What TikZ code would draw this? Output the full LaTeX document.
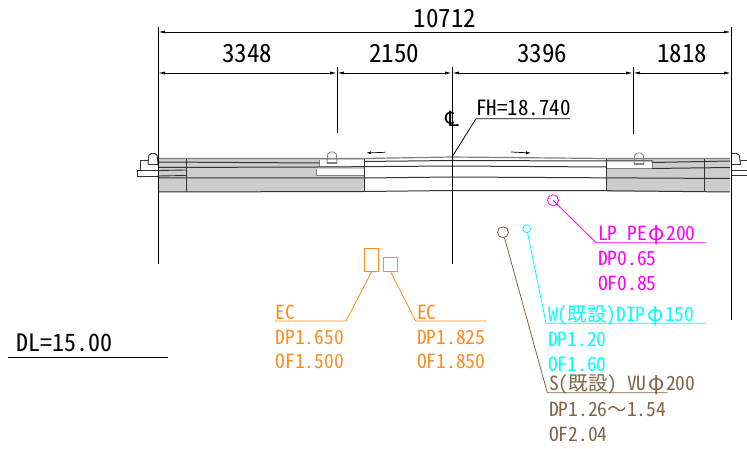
\documentclass[tikz,border=0pt]{standalone}
\usepackage{fontspec}
\newfontfamily\cadfont[RawFeature=+hwid]{Noto Sans CJK JP}
\newfontfamily\cadfull{Noto Sans CJK JP}
\newfontfamily\clfont{DejaVu Sans}
\usetikzlibrary{arrows.meta}
\definecolor{ecorange}{RGB}{255,140,30}
\definecolor{lpmagenta}{RGB}{255,0,255}
\definecolor{wcyan}{RGB}{0,255,255}
\definecolor{sbrown}{RGB}{128,100,70}
\definecolor{paved}{RGB}{205,205,205}
\tikzset{
    dimtext/.style={font=\cadfont\fontsize{25}{25}\selectfont, inner sep=0, anchor=base},
    labeltext/.style={font=\cadfont\fontsize{19.5}{20}\selectfont, inner sep=0, anchor=base west},
    dimline/.style={line width=0.8pt, {Latex[length=7pt,width=3pt]}-{Latex[length=7pt,width=3pt]}},
    extline/.style={line width=1pt},
    layerline/.style={line width=1pt, black!80},
    curb/.style={line width=0.9pt, black!80},
    pipe/.style={draw, circle, inner sep=0, line width=0.8pt},
    box/.style={inner sep=0},
    boxline/.style={draw=ecorange, line width=0.9pt},
    leader/.style={line width=0.8pt}
}
\newcommand{\phichar}{\makebox[1em]{\cadfull\scalebox{1.1}{φ}}}
\newcommand{\waveto}{{\cadfull 〜}}
\begin{document}
\begin{tikzpicture}[x=1pt, y=-1pt]
    \useasboundingbox (0, 0) rectangle (747, 449);

    % pavement
    \fill[paved] (158, 158) -- (364, 158) -- (364, 192) -- (158, 192) -- cycle;
    \fill[paved] (606.5, 158) -- (730, 158) -- (730, 192) -- (606.5, 192) -- cycle;
    \fill[white] (319, 160.5) rectangle (364, 166);
    \fill[white] (316, 169) rectangle (364, 175);
    \fill[white] (606.5, 161) rectangle (652, 168);
    \draw[gray, line width=0.8pt] (319, 160.5) -- (319, 166) (316, 169) -- (316, 175) -- (364, 175);
    \draw[gray, line width=0.8pt] (606.5, 168) -- (652, 168) -- (652, 160);

    \draw[gray, line width=1.2pt] (158, 158.5) -- (364, 158.5) -- (452, 157) -- (606.5, 158.5) -- (730, 158.5);
    \draw[layerline] (158, 162) -- (319, 163) (364, 161.5) -- (452, 160.5) -- (606.5, 161) -- (652, 161) (652, 162.5) -- (730, 161);
    \draw[layerline] (158, 167.5) -- (318, 167) -- (452, 166) -- (606.5, 167) (652, 168.5) -- (730, 167.5);
    \draw[layerline] (158, 178) -- (364, 178) -- (452, 177) -- (730, 178.5);
    \draw[layerline] (158, 192) -- (364, 191.5) -- (452, 190.5) -- (606.5, 190.7) -- (730, 192);
    \draw[layerline] (186, 159) -- (186, 192);
    \draw[layerline] (364, 159) -- (364, 192);
    \draw[layerline] (606.5, 159) -- (606.5, 191);
    \draw[layerline] (704, 159) -- (704, 192);

    % curbs
    \draw[curb, rounded corners=2pt] (148, 164.5) -- (149, 153.5) -- (157, 153.5) -- (158, 164.5);
    \draw[curb] (148, 164.5) -- (158, 164.5);
    \draw[curb] (148, 160.5) -- (140, 160.5) -- (140, 170.5);
    \draw[curb] (137.5, 170.5) rectangle (158, 176);
    \draw[curb] (158, 170.5) -- (186, 170) (158, 176) -- (186, 175.5);
    \draw[curb, rounded corners=2pt] (731, 153.5) -- (739, 153.5) -- (740.5, 164);
    \draw[curb] (731, 164) -- (740.5, 164);
    \draw[curb] (740, 160) -- (747, 160);
    \draw[curb] (731, 170) -- (747, 170) (731, 175.5) -- (747, 175.5);
    \draw[line width=0.9pt, gray, rounded corners=2pt] (327, 163) -- (328, 152) -- (336, 152) -- (337, 163);
    \draw[line width=1.6pt, gray] (327, 163) -- (337, 163);
    \draw[line width=0.9pt, gray, rounded corners=2pt] (634, 164) -- (635, 153) -- (643, 153) -- (644, 164);
    \draw[line width=1.6pt, gray] (634, 164) -- (644, 164);

    % extension lines
    \coordinate (A) at (158,  27);
    \coordinate (B) at (337,  67);
    \coordinate (C) at (452,  67);
    \coordinate (D) at (633,  67);
    \coordinate (E) at (731,  27);
    \coordinate (Abot) at (158, 264);
    \coordinate (Bbot) at (337, 133);
    \coordinate (Cbot) at (452, 264);
    \coordinate (Dbot) at (633, 134);
    \coordinate (Ebot) at (731, 320);
    \draw[extline] (A) -- (Abot);
    \draw[extline] (B) -- (Bbot);
    \draw[extline] (C) -- (Cbot);
    \draw[extline] (D) -- (Dbot);
    \draw[extline] (E) -- (Ebot);

    % dimensions
    \coordinate (Atop) at (158, 32);
    \coordinate (Etop) at (731, 32);
    \coordinate (Amid) at (158, 73);
    \coordinate (Bmid) at (337, 73);
    \coordinate (Cmid) at (452, 73);
    \coordinate (Dmid) at (633, 73);
    \coordinate (Emid) at (731, 73);
    \draw[dimline] (Atop) -- (Etop);
    \draw[dimline] (Amid) -- (Bmid);
    \draw[dimline] (Bmid) -- (Cmid);
    \draw[dimline] (Cmid) -- (Dmid);
    \draw[dimline] (Dmid) -- (Emid);
    \node[dimtext] (total) at (445, 28) {10712};
    \node[dimtext] (dimA)  at (247, 63) {3348};
    \node[dimtext] (dimB)  at (394, 63) {2150};
    \node[dimtext] (dimC)  at (542, 63) {3396};
    \node[dimtext] (dimD)  at (682, 63) {1818};

    % center line and height
    \node[font=\clfont\fontsize{21}{21}\selectfont, inner sep=0] (cl) at (452, 119) {℄};
    \node[labeltext, font=\cadfont\fontsize{21}{21}\selectfont] (fh) at (476, 115.5) {FH=18.740};
    \coordinate (fhstart) at (476, 118.7);
    \coordinate (fhend)   at (570, 118.7);
    \coordinate (crown)   at (452, 157);
    \draw[leader] (crown) -- (fhstart) -- (fhend);

    % slope arrows
    \coordinate (arrLa) at (385, 152.3);
    \coordinate (arrLb) at (366, 153);
    \coordinate (arrRa) at (511, 152);
    \coordinate (arrRb) at (531, 153);
    \draw[line width=0.7pt, -{Latex[length=5pt,width=3pt]}] (arrLa) -- (arrLb);
    \draw[line width=0.7pt, -{Latex[length=5pt,width=3pt]}] (arrRa) -- (arrRb);

    % datum
    \node[labeltext, font=\cadfont\fontsize{24}{24}\selectfont] (dl) at (16, 351.5) {DL=15.00};
    \coordinate (dlstart) at (8,   357.5);
    \coordinate (dlend)   at (168, 357.5);
    \draw[line width=0.8pt] (dlstart) -- (dlend);

    % ec
    \node[box, minimum width=14.4pt, minimum height=23.4pt] (ecA) at (371.5, 260) {};
    \node[box, minimum size=14pt] (ecB) at (390.5, 264.5) {};
    \draw[boxline] (ecB.south west) -- (ecB.south east) -- (ecB.north east) -- (ecB.north west) -- cycle;
    \draw[boxline] (ecA.south west) -- (ecA.south east) -- (ecA.north east) -- (ecA.north west) -- cycle;
    \coordinate (ecAa) at (346, 321);
    \coordinate (ecAb) at (275, 321);
    \coordinate (ecBa) at (415.7, 321);
    \coordinate (ecBb) at (486.7, 321);
    \draw[leader, ecorange] (ecA.south) -- (ecAa) -- (ecAb);
    \draw[leader, ecorange] (ecB.south) -- (ecBa) -- (ecBb);
    \node[labeltext, ecorange] (ecAtitle) at (275.5, 319.5) {EC};
    \node[labeltext, ecorange] (ecAdp)    at (275.5, 344)   {DP1.650};
    \node[labeltext, ecorange] (ecAof)    at (275.5, 368)   {OF1.500};
    \node[labeltext, ecorange] (ecBtitle) at (417,   319.5) {EC};
    \node[labeltext, ecorange] (ecBdp)    at (417,   344)   {DP1.825};
    \node[labeltext, ecorange] (ecBof)    at (417,   368)   {OF1.850};

    % lp
    \node[pipe, lpmagenta, minimum size=11pt] (lp) at (553, 200.3) {};
    \coordinate (lpa) at (596, 242.7);
    \coordinate (lpb) at (706, 242.7);
    \draw[leader, lpmagenta] (lp.center) -- (lpa) -- (lpb);
    \node[labeltext, lpmagenta] (lptitle) at (598, 240.7) {LP PE\phichar 200};
    \node[labeltext, lpmagenta] (lpdp)    at (598, 265.7) {DP0.65};
    \node[labeltext, lpmagenta] (lpof)    at (598, 290.7) {OF0.85};

    % w
    \node[pipe, wcyan, minimum size=8pt] (w) at (526.7, 228.7) {};
    \coordinate (wa) at (546,   323.3);
    \coordinate (wb) at (705.7, 323.3);
    \draw[leader, wcyan] (w) -- (wa) -- (wb);
    \node[labeltext, wcyan] (wtitle) at (548, 321.7) {W(既設)DIP\phichar 150};
    \node[labeltext, wcyan] (wdp)    at (548, 346.7) {DP1.20};
    \node[labeltext, wcyan] (wof)    at (548, 371)   {OF1.60};

    % s
    \node[pipe, sbrown, minimum size=11pt] (s) at (503, 232.3) {};
    \coordinate (sa) at (547.3, 392.7);
    \coordinate (sb) at (667.7, 392.7);
    \draw[leader, sbrown] (s) -- (sa) -- (sb);
    \node[labeltext, sbrown] (stitle) at (549, 390)   {S(既設) VU\phichar 200};
    \node[labeltext, sbrown] (sdp)    at (549, 416.7) {DP1.26\waveto 1.54};
    \node[labeltext, sbrown] (sof)    at (549, 441.7) {OF2.04};
\end{tikzpicture}
\end{document}
